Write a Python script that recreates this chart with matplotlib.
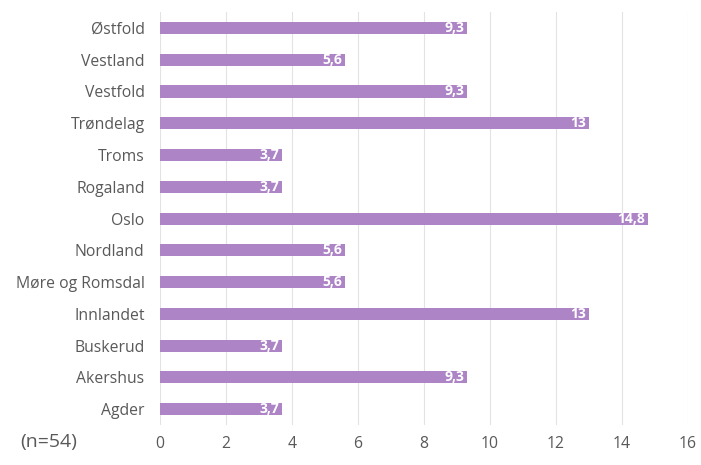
import matplotlib.pyplot as plt

# data, bottom to top as drawn
fylker = ['Agder', 'Akershus', 'Buskerud', 'Innlandet', 'Møre og Romsdal',
          'Nordland', 'Oslo', 'Rogaland', 'Troms', 'Trøndelag', 'Vestfold',
          'Vestland', 'Østfold']
prosent = [3.7, 9.3, 3.7, 13, 5.6, 5.6, 14.8, 3.7, 3.7, 13, 9.3, 5.6, 9.3]
xticks = [0, 2, 4, 6, 8, 10, 12, 14, 16]
note = "(n=54)"

plt.rcParams['font.family'] = ['Open Sans', 'DejaVu Sans']
grey = '#595959'

fig = plt.figure(figsize=(7.01, 4.65), dpi=100)
ax = fig.add_axes([0.228, 0.086, 0.753, 0.888])

ypos = list(range(len(fylker)))
bars = ax.barh(ypos, prosent, height=0.38, color='#AD84C6', zorder=3)

for y, v in zip(ypos, prosent):
    txt = f"{v:g}".replace('.', ',')
    ax.text(v - 0.08, y, txt, ha='right', va='center', color='white',
            fontsize=10, fontweight='bold', zorder=4)

ax.set_xlim(0, 16)
ax.set_ylim(-0.5, 12.5)
ax.set_yticks(ypos)
ax.set_yticklabels(fylker, fontsize=11.3, color=grey)
ax.set_xticks(xticks)
ax.set_xticklabels([str(t) for t in xticks], fontsize=11.3, color=grey)
ax.tick_params(length=0)
ax.tick_params(axis='x', pad=8)
ax.tick_params(axis='y', pad=11)
ax.grid(axis='x', color='#E3E3E3', linewidth=0.8, zorder=0)
for s in ax.spines.values():
    s.set_visible(False)

fig.text(20 / 701, 1 - 442 / 465, note, fontsize=14, color=grey,
         va='center', ha='left')

fig.savefig('out.png', dpi=100)
